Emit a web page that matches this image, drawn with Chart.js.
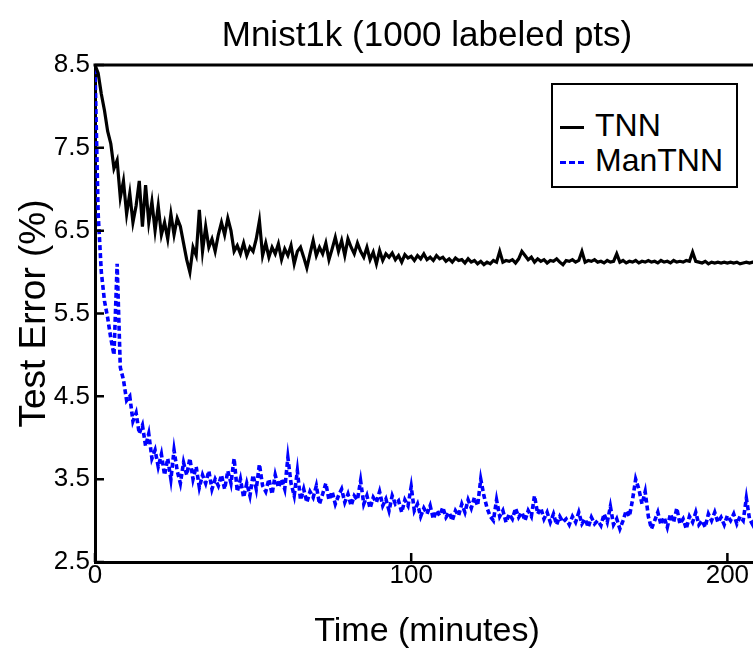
<!DOCTYPE html>
<html>
<head>
<meta charset="utf-8">
<title>Mnist1k</title>
<script src="https://cdn.jsdelivr.net/npm/chart.js@4"></script>
<style>
    html, body { margin: 0; padding: 0; background: #fff; }
    body { width: 753px; height: 649px; overflow: hidden; position: relative; font-family: 'Liberation Sans', Arial, sans-serif; }
    #chart { position: absolute; left: 0; top: 0; }
    #legend {
        position: absolute; left: 551px; top: 83px; width: 187px; height: 105px;
        box-sizing: border-box; border: 2px solid #000; background: #fff;
    }
    #legend .row { position: absolute; left: 7px; height: 32px; line-height: 32px; font-size: 32px; color: #000; white-space: nowrap; }
    #legend .swatch { display: inline-block; width: 24px; vertical-align: middle; margin-right: 11px; }
</style>
</head>
<body>
<canvas id="chart" width="775" height="649"></canvas>
<div id="legend"></div>
<script>
// --- Data (one sample per minute) ---
const minutes = [
    0, 1, 2, 3, 4, 5, 6, 7, 8, 9, 10, 11, 12, 13, 14, 15, 16, 17, 18, 19,
    20, 21, 22, 23, 24, 25, 26, 27, 28, 29, 30, 31, 32, 33, 34, 35, 36, 37, 38, 39,
    40, 41, 42, 43, 44, 45, 46, 47, 48, 49, 50, 51, 52, 53, 54, 55, 56, 57, 58, 59,
    60, 61, 62, 63, 64, 65, 66, 67, 68, 69, 70, 71, 72, 73, 74, 75, 76, 77, 78, 79,
    80, 81, 82, 83, 84, 85, 86, 87, 88, 89, 90, 91, 92, 93, 94, 95, 96, 97, 98, 99,
    100, 101, 102, 103, 104, 105, 106, 107, 108, 109, 110, 111, 112, 113, 114, 115, 116, 117, 118, 119,
    120, 121, 122, 123, 124, 125, 126, 127, 128, 129, 130, 131, 132, 133, 134, 135, 136, 137, 138, 139,
    140, 141, 142, 143, 144, 145, 146, 147, 148, 149, 150, 151, 152, 153, 154, 155, 156, 157, 158, 159,
    160, 161, 162, 163, 164, 165, 166, 167, 168, 169, 170, 171, 172, 173, 174, 175, 176, 177, 178, 179,
    180, 181, 182, 183, 184, 185, 186, 187, 188, 189, 190, 191, 192, 193, 194, 195, 196, 197, 198, 199,
    200, 201, 202, 203, 204, 205, 206, 207, 208, 209,
];

const tnnError = [
    8.5, 8.4, 8.15, 7.95, 7.7, 7.55, 7.25, 7.35, 6.9, 7.1,
    6.7, 6.95, 6.6, 6.8, 7.1, 6.55, 7.05, 6.6, 6.85, 6.5,
    6.8, 6.45, 6.6, 6.4, 6.7, 6.45, 6.65, 6.55, 6.35, 6.15,
    6.0, 6.3, 6.2, 6.75, 6.25, 6.55, 6.3, 6.4, 6.25, 6.45,
    6.6, 6.45, 6.65, 6.5, 6.25, 6.32, 6.22, 6.35, 6.2, 6.3,
    6.25, 6.4, 6.62, 6.2, 6.35, 6.18, 6.3, 6.22, 6.34, 6.15,
    6.28, 6.2, 6.32, 6.1, 6.25, 6.3, 6.18, 6.05, 6.22, 6.38,
    6.2, 6.3, 6.22, 6.35, 6.15, 6.28, 6.42, 6.25, 6.38, 6.2,
    6.4, 6.3, 6.22, 6.35, 6.25, 6.18, 6.3, 6.15, 6.24, 6.1,
    6.26, 6.14, 6.22, 6.18, 6.23, 6.15, 6.2, 6.12, 6.21, 6.17,
    6.19, 6.14, 6.2, 6.16, 6.22, 6.15, 6.18, 6.14, 6.2, 6.16,
    6.18, 6.13, 6.16, 6.12, 6.17, 6.14, 6.15, 6.11, 6.16, 6.12,
    6.14, 6.1, 6.13, 6.09, 6.12, 6.1, 6.14, 6.12, 6.25, 6.12,
    6.14, 6.13, 6.15, 6.11, 6.16, 6.25, 6.2, 6.15, 6.18, 6.12,
    6.16, 6.13, 6.15, 6.11, 6.14, 6.13, 6.16, 6.12, 6.09, 6.14,
    6.13, 6.15, 6.12, 6.14, 6.25, 6.12, 6.14, 6.13, 6.15, 6.12,
    6.13, 6.11, 6.14, 6.12, 6.13, 6.22, 6.12, 6.14, 6.11, 6.13,
    6.12, 6.14, 6.11, 6.13, 6.12, 6.14, 6.12, 6.13, 6.11, 6.14,
    6.12, 6.13, 6.11, 6.14, 6.12, 6.13, 6.12, 6.14, 6.13, 6.24,
    6.13, 6.12, 6.11, 6.13, 6.1, 6.12, 6.11, 6.12, 6.11, 6.12,
    6.11, 6.12, 6.11, 6.12, 6.1, 6.11, 6.12, 6.11, 6.12, 6.12,
];

const manTnnError = [
    8.45, 6.7, 6.0, 5.65, 5.45, 5.2, 5.0, 6.1, 4.85, 4.7,
    4.45, 4.5, 4.2, 4.3, 4.05, 4.15, 3.9, 4.05, 3.75, 3.85,
    3.65, 3.8, 3.55, 3.75, 3.5, 3.85, 3.6, 3.45, 3.7, 3.55,
    3.75, 3.5, 3.65, 3.4, 3.55, 3.45, 3.6, 3.38, 3.5, 3.42,
    3.55, 3.38, 3.6, 3.45, 3.75, 3.35, 3.5, 3.28, 3.45, 3.3,
    3.55, 3.38, 3.68, 3.42, 3.35, 3.5, 3.32, 3.55, 3.4, 3.5,
    3.38, 3.76, 3.45, 3.3, 3.6, 3.25, 3.38, 3.22, 3.35, 3.28,
    3.42, 3.2, 3.32, 3.45, 3.25, 3.35, 3.2, 3.3, 3.38, 3.22,
    3.32, 3.18, 3.3, 3.25, 3.48, 3.2, 3.3, 3.15, 3.28, 3.22,
    3.35, 3.18, 3.26, 3.12, 3.3, 3.2, 3.24, 3.1, 3.25, 3.18,
    3.41, 3.12, 3.2, 3.05, 3.15, 3.08, 3.18, 3.02, 3.12, 3.06,
    3.16, 3.04, 3.1, 3.0, 3.12, 3.06, 3.2, 3.1, 3.25, 3.15,
    3.28, 3.18, 3.5, 3.3, 3.15, 3.05, 3.0, 3.25, 3.05, 3.12,
    2.98, 3.08, 3.02, 3.15, 3.04, 3.1, 3.0, 3.12, 3.05, 3.3,
    3.08, 3.15, 3.02, 3.1, 2.98, 3.08, 2.95, 3.05, 2.98, 3.02,
    2.95, 3.05, 2.98, 3.1, 2.96, 3.02, 2.92, 3.04, 2.96, 3.0,
    2.94, 3.08, 2.98, 3.17, 2.95, 3.02, 2.9, 3.0, 3.12, 3.05,
    3.25, 3.5, 3.38, 3.2, 3.35, 3.05, 2.9, 3.0, 3.1, 2.95,
    3.04, 2.92, 3.08, 2.98, 3.15, 2.96, 3.02, 2.9, 3.05, 2.98,
    3.1, 2.95, 3.0, 2.92, 3.08, 3.0, 3.1, 2.98, 3.04, 2.95,
    3.06, 3.0, 3.08, 2.96, 3.05, 3.0, 3.27, 3.02, 2.95, 3.05,
];

const xTicks = [0, 100, 200];
const yTicks = [2.5, 3.5, 4.5, 5.5, 6.5, 7.5, 8.5];

// --- Styling ---
const FONT = "'Liberation Sans', Arial, sans-serif";
const colors = { tnn: '#000000', man: '#0000ff', axis: '#000000' };

function toPoints(values) {
    return values.map((v, i) => ({ x: minutes[i], y: v }));
}

// inward tick marks + top frame line (the original has ticks pointing into the plot)
const frameTicks = {
    id: 'frameTicks',
    afterDatasetsDraw(chart) {
        const { ctx, chartArea: a, scales: { x, y } } = chart;
        ctx.save();
        ctx.strokeStyle = colors.axis;
        ctx.lineWidth = 3;
        ctx.beginPath();
        ctx.moveTo(a.left - 1.5, a.top);
        ctx.lineTo(a.right + 20, a.top);
        ctx.stroke();

        ctx.lineWidth = 2.5;
        ctx.beginPath();
        for (const v of yTicks) {
            const py = y.getPixelForValue(v);
            ctx.moveTo(a.left, py);
            ctx.lineTo(a.left + 9, py);
        }
        for (const v of xTicks) {
            const px = x.getPixelForValue(v);
            ctx.moveTo(px, a.bottom);
            ctx.lineTo(px, a.bottom - 9);
        }
        ctx.stroke();
        ctx.restore();
    },
};

const chart = new Chart(document.getElementById('chart'), {
    type: 'line',
    data: {
        datasets: [
            {
                label: 'TNN',
                data: toPoints(tnnError),
                borderColor: colors.tnn,
                borderWidth: 3.2,
                pointRadius: 0,
                tension: 0,
            },
            {
                label: 'ManTNN',
                data: toPoints(manTnnError),
                borderColor: colors.man,
                borderWidth: 3.6,
                borderDash: [5, 3],
                pointRadius: 0,
                tension: 0,
            },
        ],
    },
    options: {
        responsive: false,
        animation: false,
        layout: { padding: { left: 0, right: 16, top: 0, bottom: 0 } },
        plugins: {
            legend: { display: false },
            tooltip: { enabled: false },
            title: {
                display: true,
                text: 'Mnist1k (1000 labeled pts)',
                fullSize: false,
                color: '#000',
                font: { family: FONT, size: 35, weight: 'normal', lineHeight: 1 },
                padding: { top: 19, bottom: 11 },
            },
        },
        scales: {
            x: {
                type: 'linear',
                min: 0,
                max: 210,
                grid: { display: false, drawTicks: false },
                border: { display: true, color: colors.axis, width: 3 },
                afterBuildTicks: s => { s.ticks = xTicks.map(v => ({ value: v })); },
                afterFit: s => { s.height = 87; },
                ticks: {
                    color: '#000',
                    padding: 1,
                    maxRotation: 0,
                    font: { family: FONT, size: 26, lineHeight: 1 },
                },
                title: {
                    display: true,
                    text: 'Time (minutes)',
                    color: '#000',
                    font: { family: FONT, size: 34, lineHeight: 1 },
                    padding: { top: 0, bottom: 0 },
                },
            },
            y: {
                type: 'linear',
                min: 2.5,
                max: 8.5,
                grid: { display: false, drawTicks: false },
                border: { display: true, color: colors.axis, width: 3 },
                afterBuildTicks: s => { s.ticks = yTicks.map(v => ({ value: v })); },
                afterFit: s => { s.width = 95; },
                ticks: {
                    color: '#000',
                    padding: 5,
                    font: { family: FONT, size: 26, lineHeight: 1 },
                    callback: v => v.toFixed(1),
                },
                title: {
                    display: true,
                    text: 'Test Error (%)',
                    color: '#000',
                    font: { family: FONT, size: 37, lineHeight: 1 },
                    padding: { top: 16, bottom: 0 },
                },
            },
        },
    },
    plugins: [frameTicks],
});

// --- Legend (boxed, upper right, as in the original) ---
function buildLegend() {
    const box = document.getElementById('legend');
    const rowTops = [24, 59];
    chart.data.datasets.forEach((ds, i) => {
        const row = document.createElement('div');
        row.className = 'row';
        row.style.top = rowTops[i] + 'px';
        const sw = document.createElement('span');
        sw.className = 'swatch';
        sw.style.borderTop = ds.borderDash ? `3px dashed ${ds.borderColor}` : `3px solid ${ds.borderColor}`;
        row.appendChild(sw);
        row.appendChild(document.createTextNode(ds.label));
        box.appendChild(row);
    });
}

buildLegend();
</script>
</body>
</html>
